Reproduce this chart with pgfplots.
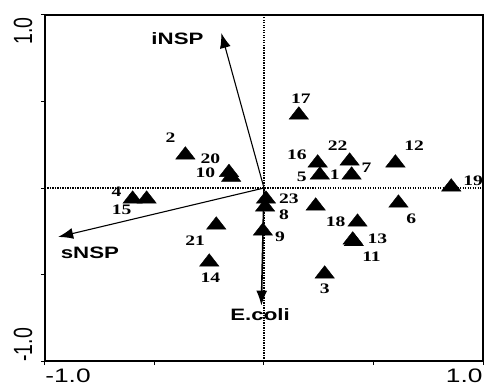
\documentclass[border=0pt]{standalone}
\usepackage{fontspec}
\setmainfont{Liberation Sans}
\newfontfamily\tnr{Liberation Serif}
\usepackage{pgfplots}
\pgfplotsset{compat=1.18}
\usetikzlibrary{arrows.meta}

\pgfplotstableread{
x y
0.159 0.422
-0.359 0.191
-0.160 0.090
-0.150 0.062
-0.600 -0.064
-0.536 -0.064
-0.218 -0.214
-0.250 -0.428
0.245 0.145
0.391 0.156
0.255 0.075
0.400 0.075
0.600 0.145
0.855 0.006
0.009 -0.064
0.005 -0.110
-0.005 -0.249
0.236 -0.104
0.427 -0.197
0.405 -0.300
0.410 -0.310
0.614 -0.087
0.277 -0.497
}\sites

\begin{document}
\begin{tikzpicture}
\useasboundingbox (-45pt,-25pt) rectangle (440pt,361pt);
\begin{axis}[
  at={(0,0)}, anchor=south west,
  scale only axis, width=438pt, height=346pt,
  xmin=-1, xmax=1, ymin=-1, ymax=1,
  xtick={-1,-0.5,0,0.5,1}, ytick={-1,-0.5,0,0.5,1},
  xticklabels={}, yticklabels={},
  tick align=outside, major tick length=4pt,
  xtick pos=bottom, ytick pos=left,
  axis line style={line width=1.8pt},
  every tick/.style={line width=1pt, black},
  clip=false,
]
\addplot[line width=1.2pt, dash pattern=on 1.2pt off 1.3pt] coordinates {(0,-1) (0,1)};
\addplot[line width=1.2pt, dash pattern=on 1.2pt off 1.3pt] coordinates {(-1,0) (1,0)};

\addplot[line width=1.1pt, -{Latex[length=15pt,width=11pt]}] coordinates {(0,0) (-0.195,0.896)};
\addplot[line width=1.1pt, -{Latex[length=15pt,width=11pt]}] coordinates {(0,0) (-0.94,-0.283)};
\addplot[line width=1.6pt, -{Latex[length=15pt,width=11pt]}] coordinates {(0,0) (-0.012,-0.68)};

\addplot[only marks, mark=triangle*, mark size=8.3pt,
  mark options={xscale=1.35, fill=black, draw=black}] table {\sites};

% arrow labels
\begin{scope}[every node/.style={font=\bfseries\fontsize{16.5}{16.5}\selectfont, xscale=1.35}]
\node at (axis cs:-0.395,0.861) {iNSP};
\node at (axis cs:-0.795,-0.376) {sNSP};
\node at (axis cs:-0.018,-0.734) {E.coli};
\end{scope}

% site labels
\begin{scope}[every node/.style={font=\tnr\bfseries\fontsize{14.5}{14.5}\selectfont, xscale=1.35, inner sep=0pt}]
\node at (axis cs:0.168,0.514) {17};
\node at (axis cs:-0.427,0.289) {2};
\node at (axis cs:-0.245,0.168) {20};
\node at (axis cs:-0.268,0.087) {10};
\node at (axis cs:-0.673,-0.023) {4};
\node at (axis cs:-0.650,-0.127) {15};
\node at (axis cs:-0.314,-0.306) {21};
\node at (axis cs:-0.245,-0.520) {14};
\node at (axis cs:0.150,0.190) {16};
\node at (axis cs:0.336,0.243) {22};
\node at (axis cs:0.173,0.064) {5};
\node at (axis cs:0.323,0.075) {1};
\node at (axis cs:0.468,0.116) {7};
\node at (axis cs:0.686,0.243) {12};
\node at (axis cs:0.955,0.040) {19};
\node at (axis cs:0.114,-0.064) {23};
\node at (axis cs:0.091,-0.156) {8};
\node at (axis cs:0.073,-0.283) {9};
\node at (axis cs:0.327,-0.197) {18};
\node at (axis cs:0.518,-0.295) {13};
\node at (axis cs:0.491,-0.400) {11};
\node at (axis cs:0.673,-0.179) {6};
\node at (axis cs:0.277,-0.584) {3};
\end{scope}

% tick labels
\begin{scope}[every node/.style={font=\fontsize{19.5}{19.5}\selectfont, inner sep=0pt}]
\node[xscale=1.35] at (axis cs:-0.895,-1.088) {-1.0};
\node[xscale=1.35] at (axis cs:0.914,-1.088) {1.0};
\node[xscale=1.35, rotate=90] at (axis cs:-1.10,0.908) {1.0};
\node[xscale=1.35, rotate=90] at (axis cs:-1.10,-0.907) {-1.0};
\end{scope}
\end{axis}
\end{tikzpicture}
\end{document}
